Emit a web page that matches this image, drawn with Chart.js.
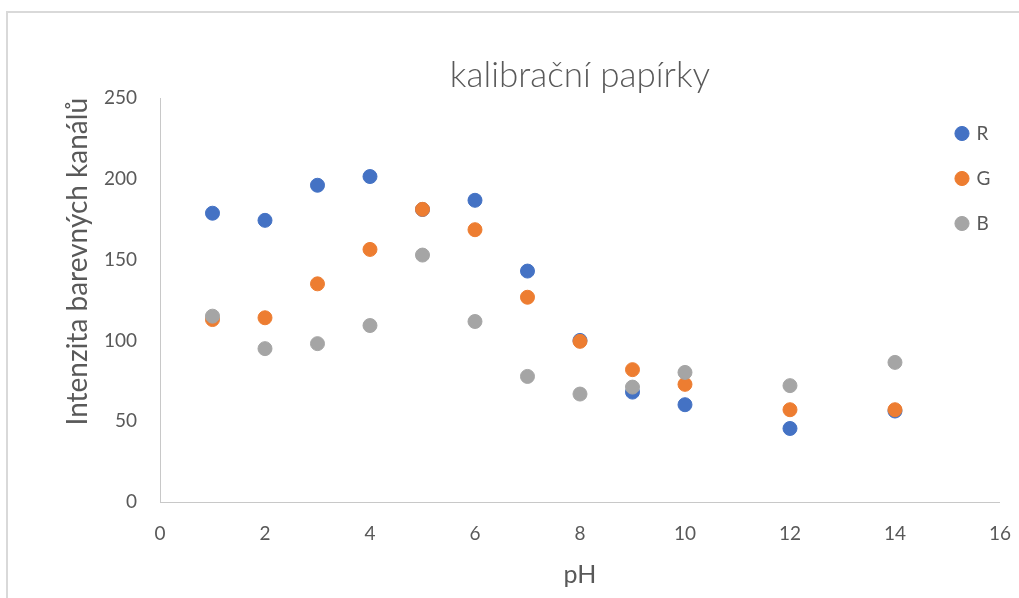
<!DOCTYPE html>
<html lang="cs">
  <head>
    <meta charset="utf-8" />
    <title>kalibrační papírky</title>
    <style>
      html,
      body {
        margin: 0;
        background: #fff;
        overflow: hidden;
      }
      .frame {
        position: absolute;
        left: 6px;
        top: 11px;
        width: 1200px;
        height: 700px;
        border-left: 2px solid #d9d9d9;
        border-top: 2px solid #d9d9d9;
      }
      .chart-wrapper {
        position: absolute;
        left: 0;
        top: 0;
        width: 1023px;
        height: 585px;
      }
    </style>
  </head>
  <body>
    <div class="frame">
      <div class="chart-wrapper">
        <canvas id="chart"></canvas>
      </div>
    </div>

    <script src="https://cdn.jsdelivr.net/npm/chart.js@4.4.1/dist/chart.umd.min.js"></script>
    <script>
      // values
      const ph = [1, 2, 3, 4, 5, 6, 7, 8, 9, 10, 12, 14];
      const red = [178.7, 174.3, 196, 201.4, 181, 186.7, 142.9, 100, 68, 60.2, 45.5, 56.3];
      const green = [112.9, 114, 135, 156.3, 181.1, 168.5, 126.7, 99.4, 81.9, 72.8, 57.1, 57.1];
      const blue = [115, 94.9, 98, 109.2, 152.8, 111.7, 77.7, 66.8, 71.1, 80.2, 72, 86.4];
      const seriesNames = ["R", "G", "B"];
      const xTicks = { min: 0, max: 16, step: 2 };
      const yTicks = { min: 0, max: 250, step: 50 };

      const textColor = "#595959";
      const fontFamily = "Lato, 'Open Sans', sans-serif";

      function points(values) {
        return values.map((v, i) => ({ x: ph[i], y: v }));
      }

      function series(label, values, color, order) {
        return {
          label: label,
          data: points(values),
          backgroundColor: color,
          borderColor: color,
          pointRadius: 7,
          pointHoverRadius: 7,
          pointBorderWidth: 1,
          showLine: false,
          order: order,
        };
      }

      // legend sits inside the plot, near its top right corner (like Excel)
      const legendInPlot = {
        id: "legendInPlot",
        afterLayout(chart) {
          const lg = chart.legend;
          const area = chart.chartArea;
          lg.left = area.right - 69;
          lg.right = lg.left + lg.width;
          lg.top = area.top;
          lg.bottom = lg.top + lg.height;
        },
      };

      const ctx = document.getElementById("chart").getContext("2d");
      const myChart = new Chart(ctx, {
        type: "scatter",
        data: {
          datasets: [
            series(seriesNames[0], red, "#4472C4", 3),
            series(seriesNames[1], green, "#ED7D31", 2),
            series(seriesNames[2], blue, "#A5A5A5", 1),
          ],
        },
        plugins: [legendInPlot],
        options: {
          responsive: true,
          maintainAspectRatio: false,
          animation: false,
          layout: {
            padding: { left: 0, right: 0, top: 0, bottom: 0 },
          },
          plugins: {
            title: {
              display: true,
              text: "kalibrační papírky",
              color: textColor,
              fullSize: false,
              font: { family: fontFamily, size: 35, weight: "300" },
              padding: { top: 42, bottom: 1 },
            },
            legend: {
              position: "chartArea",
              fullSize: false,
              align: "start",
              reverse: true,
              labels: {
                usePointStyle: true,
                pointStyle: "circle",
                boxWidth: 10,
                boxHeight: 10,
                padding: 26,
                color: textColor,
                font: { family: fontFamily, size: 19 },
              },
            },
            tooltip: { enabled: false },
          },
          scales: {
            x: {
              type: "linear",
              min: xTicks.min,
              max: xTicks.max,
              afterFit: (scale) => {
                scale.height = 96;
              },
              ticks: {
                stepSize: xTicks.step,
                color: textColor,
                padding: 20,
                font: { family: fontFamily, size: 19 },
              },
              grid: { display: false, drawTicks: false },
              border: { color: "#c8c8c8", width: 1 },
              title: {
                display: true,
                text: "pH",
                color: textColor,
                font: { family: fontFamily, size: 25 },
                padding: { top: 0, bottom: 8 },
              },
            },
            y: {
              min: yTicks.min,
              max: yTicks.max,
              afterFit: (scale) => {
                scale.width = 152;
              },
              ticks: {
                stepSize: yTicks.step,
                color: textColor,
                padding: 23,
                font: { family: fontFamily, size: 19 },
              },
              grid: { display: false, drawTicks: false },
              border: { color: "#c8c8c8", width: 1 },
              title: {
                display: true,
                text: "Intenzita barevných kanálů",
                align: "end",
                color: textColor,
                font: { family: fontFamily, size: 28 },
                padding: { top: 53, bottom: 0 },
              },
            },
          },
        },
      });
    </script>
  </body>
</html>
